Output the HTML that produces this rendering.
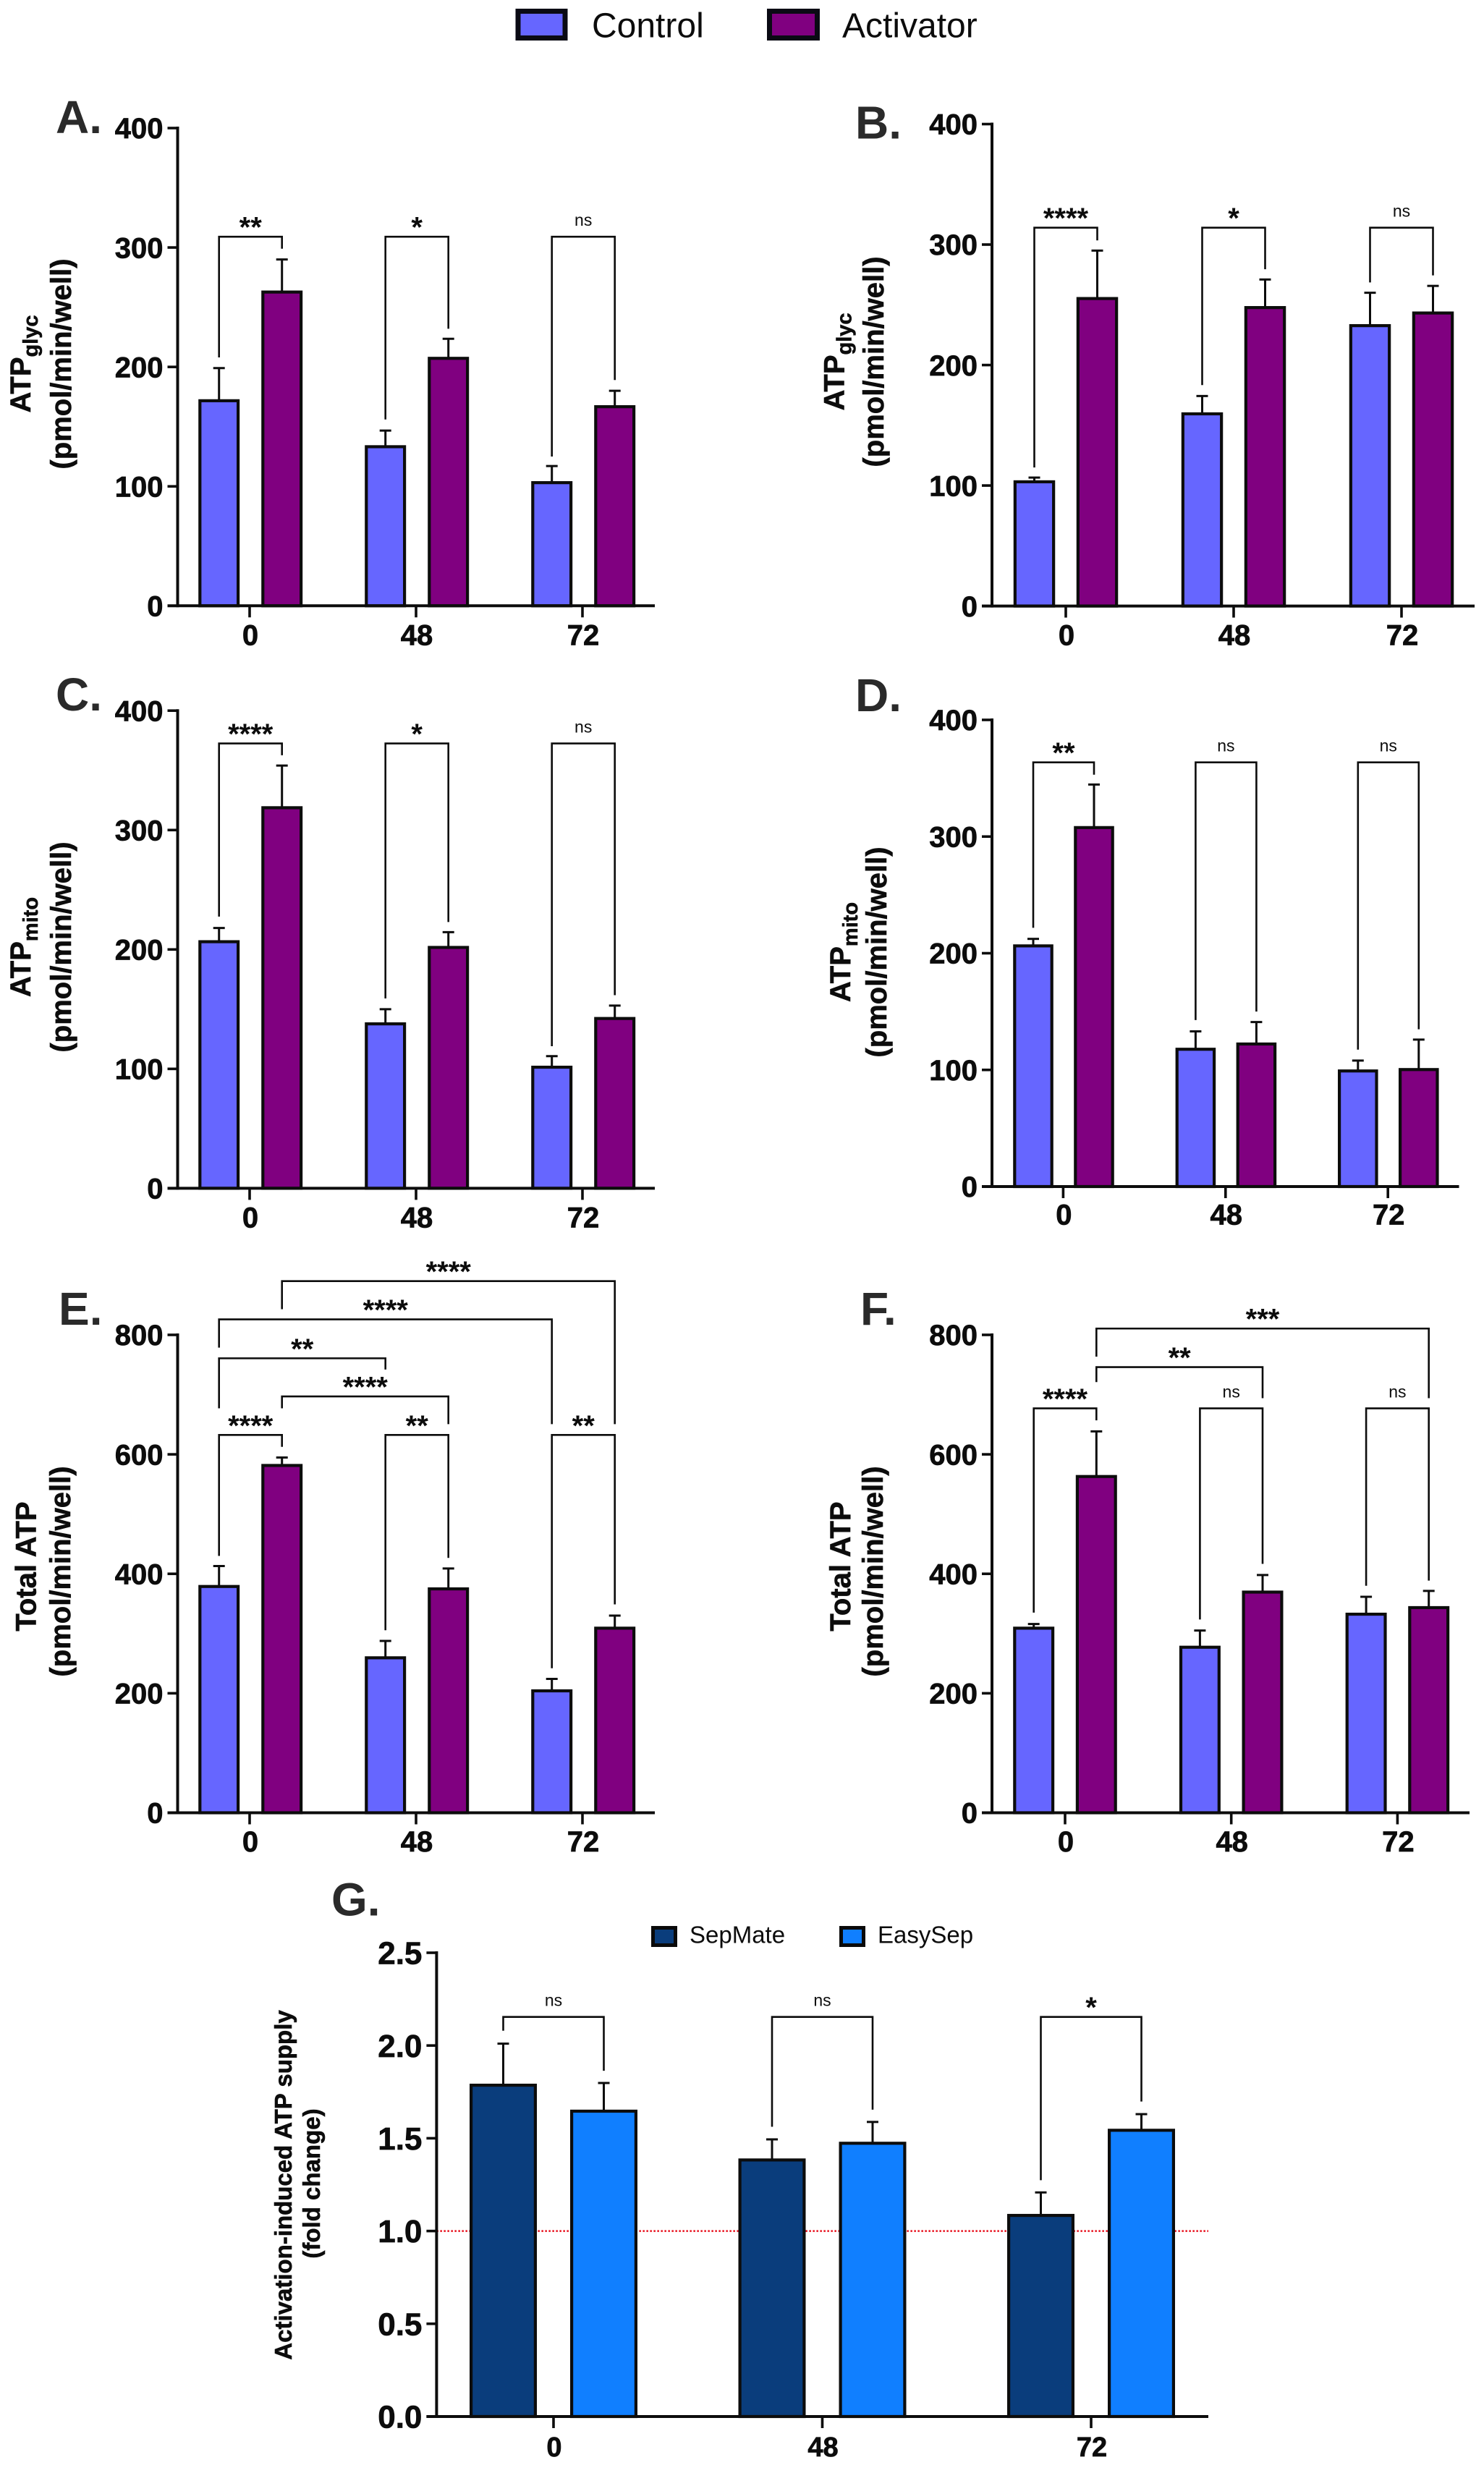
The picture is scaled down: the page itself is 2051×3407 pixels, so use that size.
<!DOCTYPE html>
<html lang="en">
<head>
<meta charset="utf-8">
<title>ATP supply bar charts</title>
<style>
html,body{margin:0;padding:0;background:#fff;}
svg{display:block;font-family:"Liberation Sans",Arial,sans-serif;}
text{fill:#0c0c0c;}
</style>
</head>
<body>
<svg id="figure" xmlns="http://www.w3.org/2000/svg" width="2051" height="3407" viewBox="0 0 2051 3407">
  <rect x="0" y="0" width="2051" height="3407" fill="#fff"/>
  <g>
    <rect x="716" y="15.5" width="65" height="37" fill="#6666ff" stroke="#0a0a14" stroke-width="7"/>
    <text x="818" y="51.5" font-size="48">Control</text>
    <rect x="1063.5" y="15.5" width="66" height="37" fill="#800080" stroke="#0a0a14" stroke-width="7"/>
    <text x="1164" y="51.5" font-size="48">Activator</text>
  </g>
  <g>
    <rect x="902.5" y="2664.5" width="31" height="24" fill="#0a3d7c" stroke="#0a0a0a" stroke-width="5"/>
    <text x="953" y="2685.5" font-size="33">SepMate</text>
    <rect x="1162.5" y="2664.5" width="31" height="24" fill="#107fff" stroke="#0a0a0a" stroke-width="5"/>
    <text x="1213" y="2685.5" font-size="33">EasySep</text>
  </g>
  <g id="panels"></g>
</svg>
<script>
const categories = ['0', '48', '72'];
const yTicks400 = [0, 100, 200, 300, 400];
const yTicks800 = [0, 200, 400, 600, 800];
const yTicksFold = [0, 0.5, 1, 1.5, 2, 2.5];
const yTickLabels400 = ['0', '100', '200', '300', '400'];
const yTickLabels800 = ['0', '200', '400', '600', '800'];
const yTickLabelsFold = ['0.0', '0.5', '1.0', '1.5', '2.0', '2.5'];

const aControl = [172, 133.5, 103.4];
const aControlErr = [27, 13.2, 13.6];
const aActivator = [263, 207.5, 167];
const aActivatorErr = [27, 16.1, 13];
const bControl = [103.4, 159.8, 233];
const bControlErr = [3.2, 14.5, 27];
const bActivator = [255.5, 248, 243.5];
const bActivatorErr = [39.5, 23, 22.2];
const cControl = [206.8, 138, 101.7];
const cControlErr = [11.2, 12, 9];
const cActivator = [319, 202, 142.5];
const cActivatorErr = [35, 12.5, 10.5];
const dControl = [206.6, 118, 99.4];
const dControlErr = [5.7, 15, 8.6];
const dActivator = [308, 122.5, 100.6];
const dActivatorErr = [36.6, 18.5, 25.4];
const eControl = [379.4, 260, 204.7];
const eControlErr = [33.6, 27.7, 19.3];
const eActivator = [582, 375.4, 309.6];
const eActivatorErr = [12.7, 33.6, 20.4];
const fControl = [309.6, 277.7, 333];
const fControlErr = [6.4, 27.3, 28.5];
const fActivator = [563.5, 370, 344];
const fActivatorErr = [75, 28, 27.4];
const gSepMate = [1.788, 1.385, 1.086];
const gSepMateErr = [0.222, 0.109, 0.122];
const gEasySep = [1.648, 1.475, 1.545];
const gEasySepErr = [0.15, 0.113, 0.085];

/* significance brackets: [group1, series1, group2, series2, top value, left-leg end value, right-leg end value, label] */
const aBrackets = [[0,0,0,1,309,208,299,'**'],[1,0,1,1,309,156,232,'*'],[2,0,2,1,309,125,189,'ns']];
const bBrackets = [[0,0,0,1,314,115,303.5,'****'],[1,0,1,1,314,183.4,279.5,'*'],[2,0,2,1,314,268.6,274.4,'ns']];
const cBrackets = [[0,0,0,1,372.5,227.5,362.6,'****'],[1,0,1,1,372.5,159,223,'*'],[2,0,2,1,372.5,119,161.7,'ns']];
const dBrackets = [[0,0,0,1,363.6,221.8,353,'**'],[1,0,1,1,363.6,142.7,150,'ns'],[2,0,2,1,363.6,117.4,134.8,'ns']];
const eBrackets = [
  [0,0,0,1,632.5,430,612.6,'****'],[1,0,1,1,632.5,305.6,426.6,'**'],[2,0,2,1,632.5,241.9,348.8,'**'],
  [0,1,1,1,697,677,650.5,'****'],[0,0,1,0,760.8,677,742,'**'],[0,0,2,0,826,778.7,650.5,'****'],[0,1,2,1,890,843,650.5,'****']
];
const fBrackets = [
  [0,0,0,1,677,335,657,'****'],[1,0,1,1,677,323.6,416.6,'ns'],[2,0,2,1,677,380,388.7,'ns'],
  [0,1,1,1,746,721,694,'**'],[0,1,2,1,810.6,763.5,694,'***']
];
const gBrackets = [[0,0,0,1,2.154,2.08,1.864,'ns'],[1,0,1,1,2.154,1.562,1.654,'ns'],[2,0,2,1,2.154,1.274,1.698,'*']];
const gReferenceLevel = [1];

const atpUnit = '(pmol/min/well)';
const panels = [
  {id:'a',letter:'A.',lx:77,ly:184,axisX:245.5,x1:905,top:177,base:837.3,yMax:400,ticks:yTicks400,tickLabels:yTickLabels400,tick0:345,step:230,centerShift:1.2,half:43.5,barW:57,
   series:[[aControl,aControlErr,'#6666ff','control'],[aActivator,aActivatorErr,'#800080','activator']],brackets:aBrackets,
   main:'ATP',sub:'glyc',t1x:42,t1y:503,t2:atpUnit,t2x:98,t2y:503,fs:40,lbl:40,xb:54},
  {id:'b',letter:'B.',lx:1182,ly:191.5,axisX:1371,x1:2038,top:171.5,base:837.6,yMax:400,ticks:yTicks400,tickLabels:yTickLabels400,tick0:1473,step:232,centerShift:0,half:43.5,barW:57.5,
   series:[[bControl,bControlErr,'#6666ff','control'],[bActivator,bActivatorErr,'#800080','activator']],brackets:bBrackets,
   main:'ATP',sub:'glyc',t1x:1166.5,t1y:500,t2:atpUnit,t2x:1221,t2y:500,fs:40,lbl:40,xb:54},
  {id:'c',letter:'C.',lx:77,ly:982,axisX:245.5,x1:905,top:982.2,base:1642.4,yMax:400,ticks:yTicks400,tickLabels:yTickLabels400,tick0:345,step:230,centerShift:1.2,half:43.5,barW:57,
   series:[[cControl,cControlErr,'#6666ff','control'],[cActivator,cActivatorErr,'#800080','activator']],brackets:cBrackets,
   main:'ATP',sub:'mito',t1x:42,t1y:1309,t2:atpUnit,t2x:98,t2y:1309,fs:40,lbl:40,xb:54},
  {id:'d',letter:'D.',lx:1182,ly:983,axisX:1371,x1:2016.5,top:995,base:1640,yMax:400,ticks:yTicks400,tickLabels:yTickLabels400,tick0:1469.4,step:224.4,centerShift:0.6,half:42,barW:55.6,
   series:[[dControl,dControlErr,'#6666ff','control'],[dActivator,dActivatorErr,'#800080','activator']],brackets:dBrackets,
   main:'ATP',sub:'mito',t1x:1175,t1y:1316,t2:atpUnit,t2x:1225,t2y:1316,fs:40,lbl:40,xb:52.5},
  {id:'e',letter:'E.',lx:81,ly:1831,axisX:245.5,x1:905,top:1845,base:2505.5,yMax:800,ticks:yTicks800,tickLabels:yTickLabels800,tick0:345,step:230,centerShift:1.2,half:43.5,barW:57,
   series:[[eControl,eControlErr,'#6666ff','control'],[eActivator,eActivatorErr,'#800080','activator']],brackets:eBrackets,
   main:'Total ATP',sub:'',t1x:49.5,t1y:2165,t2:atpUnit,t2x:97,t2y:2172,fs:40,lbl:40,xb:53.5},
  {id:'f',letter:'F.',lx:1189,ly:1831,axisX:1371,x1:2031,top:1845,base:2505.5,yMax:800,ticks:yTicks800,tickLabels:yTickLabels800,tick0:1472,step:229.7,centerShift:0,half:43.3,barW:57,
   series:[[fControl,fControlErr,'#6666ff','control'],[fActivator,fActivatorErr,'#800080','activator']],brackets:fBrackets,
   main:'Total ATP',sub:'',t1x:1175,t1y:2165,t2:atpUnit,t2x:1220,t2y:2172,fs:40,lbl:40,xb:53.5},
  {id:'g',letter:'G.',lx:458,ly:2647.5,axisX:603.4,x1:1670,top:2699,base:3340,yMax:2.5,ticks:yTicksFold,tickLabels:yTickLabelsFold,tick0:765,step:371.5,centerShift:0,half:69.5,barW:93,
   series:[[gSepMate,gSepMateErr,'#0a3d7c','sepmate'],[gEasySep,gEasySepErr,'#107fff','easysep']],brackets:gBrackets,
   main:'Activation-induced ATP supply',sub:'',t1x:403,t1y:3020,t2:'(fold change)',t2x:442,t2y:3018,fs:33,lbl:44,xlbl:38,xb:55,ref:gReferenceLevel}
];

const NS = 'http://www.w3.org/2000/svg';
const INK = '#0c0c0c';

function make(tag, attrs, parent, text) {
  const node = document.createElementNS(NS, tag);
  for (const k in attrs) node.setAttribute(k, attrs[k]);
  if (text !== undefined) node.textContent = text;
  parent.appendChild(node);
  return node;
}

function drawPanel(p, root) {
  const yScale = v => p.base - (v / p.yMax) * (p.base - p.top);
  const xTick = g => p.tick0 + g * p.step;
  const xBar = (g, s) => xTick(g) + p.centerShift + (s === 0 ? -p.half : p.half);
  const barStroke = 4.2;
  let el;

  const g = make('g', {}, root);
  
  

  el = make('text', {x: p.lx, y: p.ly, 'font-size': 64, 'font-weight': 'bold', style: 'fill:#2a2a2a'}, g, p.letter);
  
  

  if (p.ref) {
    el = make('line', {x1: p.axisX, x2: p.x1, y1: yScale(p.ref[0]), y2: yScale(p.ref[0]), stroke: '#e8101c', 'stroke-width': 2.5, 'stroke-dasharray': '2.5 2.5'}, g);
    
    
  }

  p.series.forEach((ser, s) => {
    const values = ser[0], errs = ser[1], color = ser[2], key = ser[3];
    values.forEach((v, i) => {
      const cx = xBar(i, s);
      const yTop = yScale(v), yErr = yScale(v + errs[i]);

      el = make('line', {x1: cx, x2: cx, y1: yTop, y2: yErr, stroke: INK, 'stroke-width': 3}, g);
      
      

      el = make('line', {x1: cx - 8, x2: cx + 8, y1: yErr, y2: yErr, stroke: INK, 'stroke-width': 3}, g);
      
      

      el = make('rect', {
        x: cx - p.barW / 2 + barStroke / 2,
        y: yTop + 0.5,
        width: p.barW - barStroke,
        height: Math.max(0, p.base - yTop - 0.5),
        fill: color, stroke: INK, 'stroke-width': barStroke
      }, g);
      
      
    });
  });

  el = make('line', {x1: p.axisX, x2: p.axisX, y1: p.top - 2, y2: p.base + 2, stroke: INK, 'stroke-width': 4}, g);
  
  

  el = make('line', {x1: p.axisX - 14, x2: p.x1, y1: p.base, y2: p.base, stroke: INK, 'stroke-width': 4}, g);
  
  

  p.ticks.forEach((t, i) => {
    const y = yScale(t);
    el = make('line', {x1: p.axisX - 14, x2: p.axisX, y1: y, y2: y, stroke: INK, 'stroke-width': 3.6}, g);
    
    

    el = make('text', {x: p.axisX - 20, y: y + 0.355 * p.lbl, 'font-size': p.lbl, 'font-weight': 'bold', 'text-anchor': 'end', stroke: INK, 'stroke-width': 0.7}, g, p.tickLabels[i]);
    
    
  });

  categories.forEach((c, i) => {
    const x = xTick(i);
    el = make('line', {x1: x, x2: x, y1: p.base, y2: p.base + 16, stroke: INK, 'stroke-width': 3.6}, g);
    
    

    el = make('text', {x: x + 1, y: p.base + p.xb, 'font-size': p.xlbl || p.lbl, 'font-weight': 'bold', 'text-anchor': 'middle', stroke: INK, 'stroke-width': 0.7}, g, c);
    
    
  });

  p.brackets.forEach((b, i) => {
    const xa = xBar(b[0], b[1]), xc = xBar(b[2], b[3]);
    const yt = yScale(b[4]);
    const d = 'M' + xa + ' ' + yScale(b[5]) + 'V' + yt + 'H' + xc + 'V' + yScale(b[6]);
    el = make('path', {d: d, fill: 'none', stroke: INK, 'stroke-width': 2.6}, g);
    
    

    const isNs = b[7] === 'ns';
    el = make('text', {
      x: (xa + xc) / 2,
      y: isNs ? yt - 15 : yt + 0.5,
      'font-size': isNs ? 23 : 40,
      'font-weight': isNs ? 'normal' : 'bold',
      'text-anchor': 'middle'
    }, g, b[7]);
    
    
  });

  el = make('text', {
    x: p.t1x, y: p.t1y, 'font-size': p.fs, 'font-weight': 'bold', 'text-anchor': 'middle', stroke: INK, 'stroke-width': 0.6,
    transform: 'rotate(-90 ' + p.t1x + ' ' + p.t1y + ')'
  }, g, p.main);
  if (p.sub) {
    make('tspan', {'font-size': 29, dy: 10}, el, p.sub);
  }
  
  

  el = make('text', {
    x: p.t2x, y: p.t2y, 'font-size': p.fs, 'font-weight': 'bold', 'text-anchor': 'middle', stroke: INK, 'stroke-width': 0.6,
    transform: 'rotate(-90 ' + p.t2x + ' ' + p.t2y + ')'
  }, g, p.t2);
  
  
}

const rootGroup = document.getElementById('panels');
panels.forEach(p => drawPanel(p, rootGroup));
</script>
</body>
</html>
